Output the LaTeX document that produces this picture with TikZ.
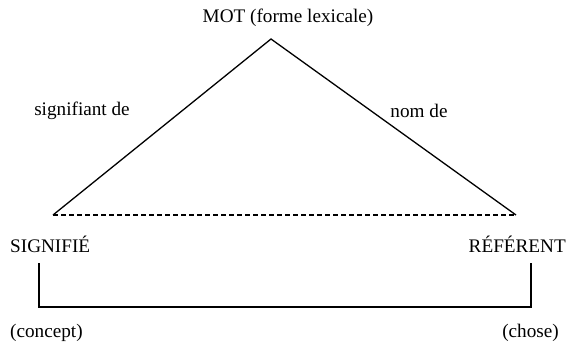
\documentclass[tikz,border=0pt]{standalone}
\usepackage{fontspec}
\setmainfont{Liberation Serif}
\begin{document}
\begin{tikzpicture}[x=1pt,y=-1pt,
  lbl/.style={inner sep=0pt,font=\fontsize{19.2}{21}\selectfont},
  edge/.style={line width=1.3pt,line join=miter}]
\useasboundingbox (0,0) rectangle (571,343);
\coordinate (apex) at (271,39);
\coordinate (bl) at (53,215);
\coordinate (br) at (516,215);
\draw[edge] (bl) -- (apex) -- (br);
\draw[edge,dashed,dash pattern=on 5pt off 3pt] (bl) -- (br);
\node[lbl] (mot) at (288,18) {MOT (forme lexicale)};
\node[lbl] (sd) at (82,111) {signifiant de};
\node[lbl] (nd) at (419,111) {nom de};
\node[lbl,anchor=west] (sig) at (10,244) {SIGNIFIÉ};
\node[lbl,anchor=east] (ref) at (566,244) {RÉFÉRENT};
\coordinate (c1) at (39,263);
\coordinate (c2) at (39,307);
\coordinate (c3) at (531,307);
\coordinate (c4) at (531,263);
\draw[edge] (c1) -- (c2) -- (c3) -- (c4);
\node[lbl,anchor=west] (con) at (10,333) {(concept)};
\node[lbl,anchor=east] (ch) at (559,333) {(chose)};
\end{tikzpicture}
\end{document}
